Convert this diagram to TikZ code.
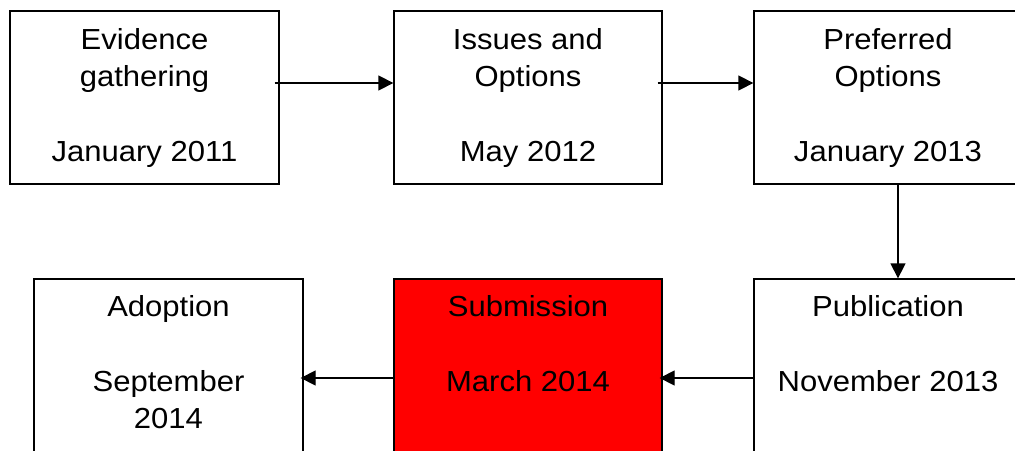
\documentclass[tikz,border=0pt]{standalone}
\usepackage{fontspec}
\setmainfont{Liberation Sans}[FakeStretch=1.07]
\usetikzlibrary{arrows.meta}
\tikzset{
  stage/.style={draw=black, line width=1.3pt, fill=white, minimum width=269pt, minimum height=173pt, inner sep=0pt},
  hot/.style={stage, fill=red},
  stagetext/.style={anchor=north, align=center, inner sep=0pt, font=\fontsize{29}{37.3}\selectfont},
  flow/.style={line width=1.3pt, -{Triangle[length=15pt,width=15pt]}}
}
\begin{document}
\begin{tikzpicture}[x=1pt,y=-1pt]
\useasboundingbox (0,0) rectangle (1015,450);
\clip (0,0) rectangle (1015,450);
% boxes
\node[stage] (b1) at (144.5,97.5) {};
\node[stage, minimum width=268pt] (b2) at (528,97.5) {};
\node[stage, minimum width=268pt] (b3) at (888,97.5) {};
\node[stage] (b4) at (168.5,365.5) {};
\node[hot, minimum width=268pt] (b5) at (528,365.5) {};
\node[stage, minimum width=268pt] (b6) at (888,365.5) {};
% texts
\node[stagetext] (t1) at ([yshift=-18pt]b1.north) {Evidence\\gathering\\[37.3pt]January 2011};
\node[stagetext] (t2) at ([yshift=-18pt]b2.north) {Issues and\\Options\\[37.3pt]May 2012};
\node[stagetext] (t3) at ([yshift=-18pt]b3.north) {Preferred\\Options\\[37.3pt]January 2013};
\node[stagetext] (t4) at ([yshift=-17pt]b4.north) {Adoption\\[37.3pt]September\\2014};
\node[stagetext] (t5) at ([yshift=-17pt]b5.north) {Submission\\[37.3pt]March 2014};
\node[stagetext] (t6) at ([yshift=-17pt]b6.north) {Publication\\[37.3pt]November 2013};
% connectors
\draw[flow, shorten <=-5pt] ([yshift=14.5pt]b1.east) -- ([yshift=14.5pt]b2.west);
\draw[flow, shorten <=-5pt] ([yshift=14.5pt]b2.east) -- ([yshift=14.5pt]b3.west);
\draw[flow] ([xshift=10pt]b3.south) -- ([xshift=10pt]b6.north);
\draw[flow, shorten >=-3pt] ([yshift=-12.5pt]b6.west) -- ([yshift=-12.5pt]b5.east);
\draw[flow, shorten >=-3pt] ([yshift=-12.5pt]b5.west) -- ([yshift=-12.5pt]b4.east);
\end{tikzpicture}
\end{document}
